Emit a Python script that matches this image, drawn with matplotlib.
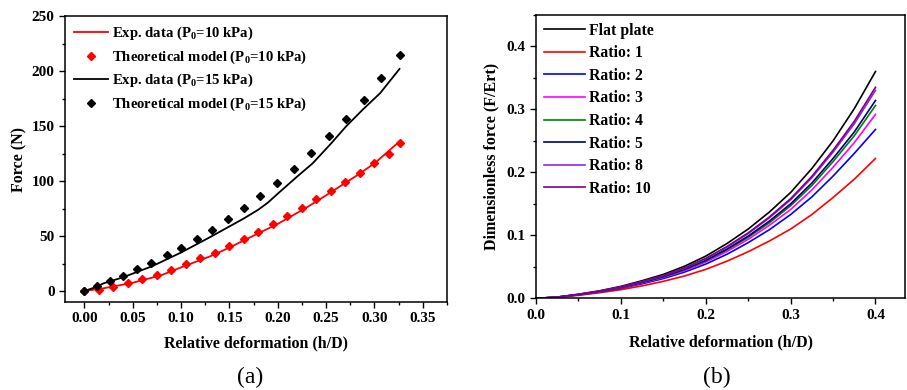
import numpy as np
import matplotlib
matplotlib.use('Agg')
from matplotlib import pyplot as plt
from matplotlib.ticker import MultipleLocator, FormatStrFormatter

plt.rcParams['font.family'] = ['Liberation Serif', 'DejaVu Serif']
plt.rcParams['font.weight'] = 'bold'
plt.rcParams['mathtext.default'] = 'regular'

# (a) force vs relative deformation
exp10_x = [0, 0.02, 0.05, 0.08, 0.1, 0.13, 0.15, 0.18, 0.2, 0.23, 0.25, 0.28, 0.3, 0.326]
exp10_y = [0, 2.5, 7.5, 14.5, 21.5, 31.5, 39.5, 52.5, 61, 76, 87, 104, 116, 136]
th10_x = [0, 0.015, 0.03, 0.045, 0.06, 0.075, 0.09, 0.105, 0.12, 0.135, 0.15, 0.165,
          0.18, 0.195, 0.21, 0.225, 0.24, 0.255, 0.27, 0.285, 0.30, 0.315, 0.326]
th10_y = [0, 1, 3.5, 7, 10.5, 14.5, 19.5, 24.5, 29.8, 35, 41, 47.4,
          54, 61, 68.3, 75.8, 83.5, 91, 99, 107.5, 116.4, 124.8, 134.8]
exp15_x = [0, 0.01, 0.02, 0.04, 0.07, 0.1, 0.13, 0.165, 0.18, 0.19, 0.2, 0.22,
           0.236, 0.254, 0.271, 0.288, 0.306, 0.326]
exp15_y = [0, 3, 7, 12.5, 22.5, 35, 49, 66, 74, 80.5, 88.5, 104,
           116, 133, 150, 165, 180, 202]
th15_x = [0, 0.013, 0.026, 0.040, 0.054, 0.069, 0.085, 0.100, 0.116, 0.132, 0.1485,
          0.165, 0.182, 0.1995, 0.217, 0.2347, 0.253, 0.271, 0.289, 0.307, 0.326]
th15_y = [0, 4.5, 9, 14, 19.7, 25.8, 32.5, 39.5, 47, 55.6, 65.3,
          75.6, 86.6, 98, 111, 125.5, 140.6, 156.8, 174, 193.5, 214.5]

# (b) dimensionless force for each ratio
hd = [0, 0.025, 0.05, 0.075, 0.1, 0.125, 0.15, 0.175, 0.2, 0.225, 0.25, 0.275, 0.3,
      0.325, 0.35, 0.375, 0.4]
flat = [0, 0.002, 0.0065, 0.012, 0.019, 0.028, 0.038, 0.051, 0.067, 0.087, 0.110, 0.137,
        0.168, 0.206, 0.250, 0.301, 0.360]
ratio1 = [0, 0.0016, 0.0048, 0.0090, 0.0138, 0.0198, 0.027, 0.0355, 0.046, 0.059, 0.074,
          0.091, 0.110, 0.133, 0.160, 0.189, 0.222]
ratio2 = [0, 0.0018, 0.0055, 0.0102, 0.0159, 0.0231, 0.0314, 0.0417, 0.0544, 0.070, 0.0884,
          0.109, 0.133, 0.161, 0.194, 0.230, 0.268]
ratio3 = [0, 0.0018, 0.0057, 0.0107, 0.0167, 0.0243, 0.033, 0.044, 0.0575, 0.0744, 0.0938,
          0.116, 0.141, 0.172, 0.208, 0.247, 0.292]
ratio4 = [0, 0.0019, 0.0059, 0.0109, 0.0171, 0.0250, 0.034, 0.0454, 0.0594, 0.077, 0.097,
          0.120, 0.147, 0.179, 0.217, 0.258, 0.306]
ratio5 = [0, 0.0019, 0.006, 0.0111, 0.0174, 0.0255, 0.0346, 0.0462, 0.0605, 0.0783, 0.0988,
          0.1227, 0.150, 0.183, 0.222, 0.264, 0.314]
ratio8 = [0, 0.0019, 0.0062, 0.0114, 0.018, 0.0264, 0.0358, 0.0479, 0.0628, 0.0814, 0.1028,
          0.1278, 0.1564, 0.1914, 0.232, 0.277, 0.330]
ratio10 = [0, 0.002, 0.0062, 0.0115, 0.0181, 0.0266, 0.0361, 0.0484, 0.0634, 0.0822, 0.1039,
           0.1292, 0.1582, 0.1936, 0.235, 0.281, 0.335]
curve_labels = ['Flat plate', 'Ratio: 1', 'Ratio: 2', 'Ratio: 3', 'Ratio: 4', 'Ratio: 5',
                'Ratio: 8', 'Ratio: 10']
curve_colors = ['black', '#ff0000', '#0000ff', '#ff00ff', '#008000', '#000080',
                '#8a2be2', '#800080']

fig = plt.figure(figsize=(9.07, 3.9), dpi=100)
ax1 = fig.add_axes([0.0717, 0.2256, 0.421, 0.733])
ax2 = fig.add_axes([0.591, 0.235, 0.407, 0.727])

ax1.plot(exp10_x, exp10_y, color='red', lw=1.3, label='Exp. data (P$_0$=10 kPa)')
ax1.plot(th10_x, th10_y, 'D', color='red', ms=4.5, label='Theoretical model (P$_0$=10 kPa)')
ax1.plot(exp15_x, exp15_y, color='black', lw=1.3, label='Exp. data (P$_0$=15 kPa)')
ax1.plot(th15_x, th15_y, 'D', color='black', ms=4.5, label='Theoretical model (P$_0$=15 kPa)')
ax1.set_xlim(-0.02, 0.375)
ax1.set_ylim(-10, 250)
ax1.xaxis.set_major_locator(MultipleLocator(0.05))
ax1.xaxis.set_minor_locator(MultipleLocator(0.025))
ax1.yaxis.set_major_locator(MultipleLocator(50))
ax1.yaxis.set_minor_locator(MultipleLocator(25))
ax1.xaxis.set_major_formatter(FormatStrFormatter('%.2f'))
ax1.set_xlabel('Relative deformation (h/D)', fontsize=11.5, fontweight='bold', labelpad=7)
ax1.set_ylabel('Force (N)', fontsize=11.5, fontweight='bold', labelpad=3)
ax1.legend(loc='upper left', frameon=False, fontsize=10.6, handlelength=2.3,
           handletextpad=0.3, labelspacing=0.42, borderaxespad=0.2, numpoints=1)

for ys, lab, col in zip([flat, ratio1, ratio2, ratio3, ratio4, ratio5, ratio8, ratio10],
                        curve_labels, curve_colors):
    ax2.plot(hd, ys, color=col, lw=1.2, label=lab)
ax2.set_xlim(0, 0.435)
ax2.set_ylim(0, 0.45)
ax2.xaxis.set_major_locator(MultipleLocator(0.1))
ax2.xaxis.set_minor_locator(MultipleLocator(0.05))
ax2.yaxis.set_major_locator(MultipleLocator(0.1))
ax2.yaxis.set_minor_locator(MultipleLocator(0.05))
ax2.xaxis.set_major_formatter(FormatStrFormatter('%.1f'))
ax2.yaxis.set_major_formatter(FormatStrFormatter('%.1f'))
ax2.set_xlabel('Relative deformation (h/D)', fontsize=11.5, fontweight='bold', labelpad=9)
ax2.set_ylabel('Dimensionless force (F/Ert)', fontsize=11.5, fontweight='bold', labelpad=5)
ax2.legend(loc='upper left', frameon=False, fontsize=11.3, handlelength=2.6,
           handletextpad=0.3, labelspacing=0.42, borderaxespad=0.1)

for ax in (ax1, ax2):
    for s in ax.spines.values():
        s.set_linewidth(1.1)
    ax.tick_params(which='both', direction='out', top=False, right=False,
                   labelsize=11, width=1.0)
    ax.tick_params(which='major', length=4)
    ax.tick_params(which='minor', length=2.5)
    for t in ax.get_xticklabels() + ax.get_yticklabels():
        t.set_fontweight('bold')

fig.text(0.276, 0.031, '(a)', fontsize=17, fontweight='normal', ha='center', va='center')
fig.text(0.79, 0.031, '(b)', fontsize=17, fontweight='normal', ha='center', va='center')

fig.savefig('out.png', dpi=100)
